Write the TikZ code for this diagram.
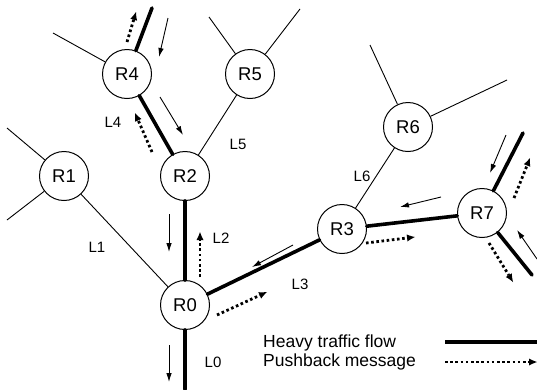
\documentclass[tikz,border=0pt]{standalone}
\usepackage{fontspec}
\setmainfont{Liberation Sans}
\usetikzlibrary{arrows.meta}
\begin{document}
\begin{tikzpicture}[x=1pt,y=-1pt,
  router/.style={circle,draw,line width=1pt,minimum size=49pt,inner sep=0pt,fill=white,font=\fontsize{18.5}{20}\selectfont},
  thinlink/.style={line width=0.9pt},
  heavy/.style={line width=3.6pt,line cap=round},
  flowarrow/.style={line width=0.9pt,-{Latex[length=9pt,width=5.5pt]}},
  pusharrow/.style={line width=2.8pt,dash pattern=on 2.6pt off 2.6pt,-{Latex[length=8pt,width=7pt,line width=0pt]}},
  lbl/.style={font=\fontsize{15}{16}\selectfont,inner sep=0pt},
  legtext/.style={font=\fontsize{17.5}{19}\selectfont,inner sep=0pt,anchor=west}]
\useasboundingbox (0,0) rectangle (537,389);

% nodes
\node[router] (R0) at (185,305) {R0};
\node[router] (R1) at (64,176) {R1};
\node[router] (R2) at (185,176) {R2};
\node[router] (R3) at (342,229) {R3};
\node[router] (R4) at (127,74) {R4};
\node[router] (R5) at (250,74) {R5};
\node[router] (R6) at (408,127) {R6};
\node[router] (R7) at (482,213) {R7};

% free ends
\coordinate (e4a) at (53,33);
\coordinate (e4b) at (152,8);
\coordinate (e5a) at (209,17);
\coordinate (e5b) at (300,9);
\coordinate (e1a) at (7,128);
\coordinate (e1b) at (7,220);
\coordinate (e6a) at (370,45);
\coordinate (e6b) at (507,80);
\coordinate (e0) at (185,389);
\coordinate (e7a) at (523,133);
\coordinate (e7b) at (532,275);
\coordinate (legA) at (445,342);
\coordinate (legB) at (537,342);
\coordinate (legC) at (445,362);
\coordinate (legD) at (537,362);

% thin links
\draw[thinlink] (R4) -- (e4a);
\draw[thinlink] (R5) -- (e5a);
\draw[thinlink] (R5) -- (e5b);
\draw[thinlink] (R5) -- (R2);
\draw[thinlink] (R1) -- (e1a);
\draw[thinlink] (R1) -- (e1b);
\draw[thinlink] (R1) -- (R0);
\draw[thinlink] (R6) -- (e6a);
\draw[thinlink] (R6) -- (e6b);
\draw[thinlink] (R6) -- (R3);

% heavy links
\draw[heavy] (R4) -- (e4b);
\draw[heavy] (R4) -- (R2);
\draw[heavy] (R2) -- (R0);
\draw[heavy] (R0) -- (R3);
\draw[heavy] (R3) -- (R7);
\draw[heavy] (R0) -- (e0);
\draw[heavy] (R7) -- (e7a);
\draw[heavy] (R7) -- (e7b);

% traffic arrows
\draw[flowarrow] (168,18) -- (159,57);
\draw[flowarrow] (160,97) -- (183,135);
\draw[flowarrow] (169,214) -- (169,252);
\draw[flowarrow] (293,245) -- (252,267);
\draw[flowarrow] (169,345) -- (169,382);
\draw[flowarrow] (441,197) -- (400,207);
\draw[flowarrow] (506,135) -- (490,173);
\draw[flowarrow] (537,259) -- (517,230);

% pushback arrows
\draw[pusharrow] (127,42) -- (136,12);
\draw[pusharrow] (152,152) -- (135,113);
\draw[pusharrow] (200,277) -- (200,232);
\draw[pusharrow] (217,315) -- (267,292);
\draw[pusharrow] (366,243) -- (415,237);
\draw[pusharrow] (514,198) -- (530,158);
\draw[pusharrow] (489,243) -- (513,282);

% labels
\node[lbl] (L0) at (213,362) {L0};
\node[lbl] (L1) at (97,247) {L1};
\node[lbl] (L2) at (221,238) {L2};
\node[lbl] (L3) at (300,284) {L3};
\node[lbl] (L4) at (113,122) {L4};
\node[lbl] (L5) at (238,144) {L5};
\node[lbl] (L6) at (362,176) {L6};

% legend
\node[legtext] (lh) at (263,343) {Heavy traffic flow};
\node[legtext] (lp) at (263,362) {Pushback message};
\draw[heavy,line cap=butt] (legA) -- (legB);
\draw[pusharrow] (legC) -- (legD);
\end{tikzpicture}
\end{document}
